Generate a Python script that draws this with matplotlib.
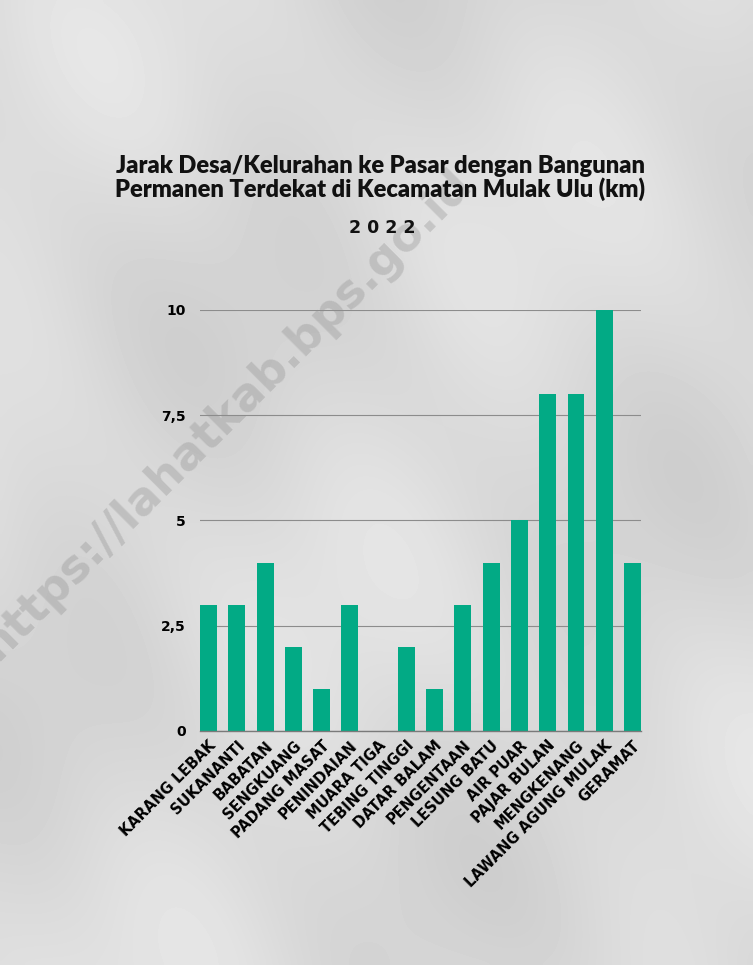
import numpy as np
import matplotlib
matplotlib.use("Agg")
from matplotlib import pyplot as plt
from matplotlib.ticker import FuncFormatter

desa = [
    "KARANG LEBAK", "SUKANANTI", "BABATAN", "SENGKUANG", "PADANG MASAT",
    "PENINDAIAN", "MUARA TIGA", "TEBING TINGGI", "DATAR BALAM", "PENGENTAAN",
    "LESUNG BATU", "AIR PUAR", "PAJAR BULAN", "MENGKENANG",
    "LAWANG AGUNG MULAK", "GERAMAT",
]
jarak_km = [3, 3, 4, 2, 1, 3, 0, 2, 1, 3, 4, 5, 8, 8, 10, 4]
y_ticks = [0, 2.5, 5, 7.5, 10]

BAR_COLOR = "#02aa85"
BG = "#d8d8d8"

fig = plt.figure(figsize=(7.53, 9.65), dpi=100)
fig.patch.set_facecolor(BG)

# soft paper-like shading in the background
bg_ax = fig.add_axes((0, 0, 1, 1), zorder=-2)
yy, xx = np.mgrid[0:1:200j, 0:1:160j]
shade = (0.855 + 0.025 * np.sin(9 * xx + 6 * yy)
         + 0.015 * np.cos(13 * yy - 4 * xx) + 0.01 * np.sin(21 * xx - 17 * yy))
bg_ax.imshow(shade, cmap="gray", vmin=0, vmax=1, extent=(0, 1, 0, 1),
             aspect="auto", interpolation="bicubic")
bg_ax.set_axis_off()

# watermark
fig.text(0.30, 0.57, "https://lahatkab.bps.go.id", rotation=45,
         ha="center", va="center", fontsize=33, fontweight="bold",
         color="#8a8a8a", alpha=0.32, family="DejaVu Sans", zorder=-1)

ax = fig.add_axes((0.2656, 0.2425, 0.5857, 0.4363))
ax.set_facecolor("none")

xs = np.arange(len(desa))
ax.bar(xs, jarak_km, width=0.6, color=BAR_COLOR, zorder=3)

ax.set_xlim(-0.3, len(desa) - 0.7)
ax.set_ylim(0, 10)
ax.set_yticks(y_ticks)
ax.yaxis.set_major_formatter(
    FuncFormatter(lambda v, _: f"{v:g}".replace(".", ","))
)
ax.grid(axis="y", color="#8c8c8c", linewidth=0.8, zorder=1)
ax.set_axisbelow(True)

for side in ["top", "right", "left"]:
    ax.spines[side].set_visible(False)
ax.spines["bottom"].set_color("#7a7a7a")
ax.spines["bottom"].set_linewidth(1.0)
ax.spines["bottom"].set_zorder(4)

ax.tick_params(axis="both", length=0)
ax.tick_params(axis="y", pad=10)
ax.tick_params(axis="x", pad=5)
for lbl in ax.get_yticklabels():
    lbl.set_fontsize(10)
    lbl.set_fontweight("bold")
    lbl.set_family("DejaVu Sans")

ax.set_xticks(xs)
ax.set_xticklabels(desa, rotation=45, ha="right", rotation_mode="anchor",
                   fontsize=10.5, fontweight="bold", family="DejaVu Sans")

fig.text(0.505, 0.816,
         "Jarak Desa/Kelurahan ke Pasar dengan Bangunan\n"
         "Permanen Terdekat di Kecamatan Mulak Ulu (km)",
         ha="center", va="center", fontsize=17, fontweight="heavy",
         family="Lato", linespacing=1.02, color="#111111")
fig.text(0.508, 0.764, "2 0 2 2", ha="center", va="center", fontsize=12.5,
         fontweight="bold", family="DejaVu Sans", color="#111111")

fig.savefig("out.png", dpi=100, facecolor=fig.get_facecolor())
